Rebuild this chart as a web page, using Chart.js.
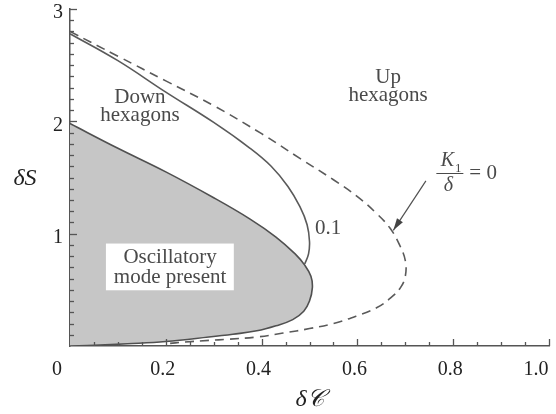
<!DOCTYPE html>
<html><head><meta charset="utf-8">
<script src="https://cdn.jsdelivr.net/npm/chart.js@4/dist/chart.umd.min.js"></script>
<style>html,body{margin:0;padding:0;background:#fff;}#wrap{width:556px;height:414px;position:relative;}</style>
</head><body><div id="wrap"><canvas id="c" width="556" height="414"></canvas></div>
<script>
// ---- data ----
const oscX = [0, 0.1, 0.2, 0.3, 0.376, 0.43, 0.47, 0.49, 0.503, 0.506, 0.50, 0.488, 0.465, 0.43, 0.39, 0.34, 0.29, 0.20, 0.12, 0.05, 0];
const oscY = [1.98, 1.76, 1.55, 1.32, 1.13, 0.97, 0.82, 0.72, 0.62, 0.52, 0.40, 0.31, 0.235, 0.18, 0.135, 0.105, 0.08, 0.04, 0.02, 0.006, 0];
const k01X = [0, 0.1, 0.2, 0.3, 0.376, 0.42, 0.455, 0.48, 0.495, 0.5, 0.498, 0.49];
const k01Y = [2.78, 2.54, 2.26, 1.99, 1.76, 1.60, 1.42, 1.24, 1.08, 0.93, 0.82, 0.73];
const k0X = [0, 0.1, 0.2, 0.3, 0.4, 0.48, 0.55, 0.60, 0.64, 0.668, 0.688, 0.70, 0.70, 0.69, 0.67, 0.64, 0.60, 0.55, 0.50, 0.445, 0.39, 0.33, 0.29, 0.24, 0.20];
const k0Y = [2.80, 2.58, 2.36, 2.14, 1.89, 1.67, 1.48, 1.33, 1.18, 1.05, 0.90, 0.76, 0.62, 0.52, 0.43, 0.34, 0.27, 0.20, 0.155, 0.115, 0.08, 0.06, 0.05, 0.035, 0.02];
const arrowX = [0.743, 0.675];
const arrowY = [1.47, 1.03];
const xMajorTicks = [0.2, 0.4, 0.6, 0.8, 1.0];
const xTickLabels = ['0.2', '0.4', '0.6', '0.8', '1.0'];
const xMinorTicks = [0.05, 0.1, 0.15, 0.25, 0.3, 0.35, 0.45, 0.5, 0.55, 0.65, 0.7, 0.75, 0.85, 0.9, 0.95];
const yMajorTicks = [1, 2, 3];
const yTickLabels = ['1', '2', '3'];
const yMinorTicks = [0.1,0.2,0.3,0.4,0.5,0.6,0.7,0.8,0.9,1.1,1.2,1.3,1.4,1.5,1.6,1.7,1.8,1.9,2.1,2.2,2.3,2.4,2.5,2.6,2.7,2.8,2.9];
const xTitle = 'δ𝒞';
const yTitle = 'δS';
const originLabel = '0';

// ---- annotation placement (layout) ----
const regionLabels = [
  {text: 'Down', x: 0.146, y: 2.16},
  {text: 'hexagons', x: 0.146, y: 2.0},
  {text: 'Up', x: 0.664, y: 2.345},
  {text: 'hexagons', x: 0.664, y: 2.177},
  {text: 'Oscillatory', x: 0.209, y: 0.735},
  {text: 'mode present', x: 0.209, y: 0.558},
  {text: '0.1', x: 0.539, y: 1.0}
];
const oscBox = {x0: 0.075, x1: 0.342, y0: 0.496, y1: 0.912};
const fracAnchor = {x: 0.792, y: 1.54};

const pts = (xs, ys) => xs.map((x, i) => ({x, y: ys[i]}));
const INK = '#4a4a4a';
const SERIF = '"Liberation Serif", "DejaVu Serif", serif';

const annot = {
  id: 'annot',
  afterDatasetsDraw(chart) {
    const {ctx, chartArea: ca} = chart;
    const xs = chart.scales.x, ys = chart.scales.y;
    ctx.save();
    // inward tick marks
    ctx.strokeStyle = '#555';
    ctx.lineWidth = 1.3;
    const tick = (v, len, isX) => {
      ctx.beginPath();
      if (isX) { const p = Math.round(xs.getPixelForValue(v)) + 0.5; ctx.moveTo(p, ca.bottom); ctx.lineTo(p, ca.bottom - len); }
      else { const p = Math.round(ys.getPixelForValue(v)) + 0.5; ctx.moveTo(ca.left, p); ctx.lineTo(ca.left + len, p); }
      ctx.stroke();
    };
    xMajorTicks.forEach(v => tick(v, 7, true));
    xMinorTicks.forEach(v => tick(v, 4, true));
    yMajorTicks.forEach(v => tick(v, 7, false));
    yMinorTicks.forEach(v => tick(v, 4, false));

    // white box behind oscillatory label
    const bx0 = xs.getPixelForValue(oscBox.x0), bx1 = xs.getPixelForValue(oscBox.x1);
    const by0 = ys.getPixelForValue(oscBox.y1), by1 = ys.getPixelForValue(oscBox.y0);
    ctx.fillStyle = '#fff';
    ctx.fillRect(bx0, by0, bx1 - bx0, by1 - by0);

    // region labels
    ctx.fillStyle = INK;
    ctx.font = '21px ' + SERIF;
    ctx.textAlign = 'center';
    ctx.textBaseline = 'alphabetic';
    regionLabels.forEach(l => ctx.fillText(l.text, xs.getPixelForValue(l.x), ys.getPixelForValue(l.y)));

    // arrowhead
    const ax0 = xs.getPixelForValue(arrowX[0]), ay0 = ys.getPixelForValue(arrowY[0]);
    const ax1 = xs.getPixelForValue(arrowX[1]), ay1 = ys.getPixelForValue(arrowY[1]);
    const ang = Math.atan2(ay1 - ay0, ax1 - ax0);
    ctx.fillStyle = '#444';
    ctx.beginPath();
    ctx.moveTo(ax1, ay1);
    ctx.lineTo(ax1 - 12 * Math.cos(ang) + 3.5 * Math.sin(ang), ay1 - 12 * Math.sin(ang) - 3.5 * Math.cos(ang));
    ctx.lineTo(ax1 - 12 * Math.cos(ang) - 3.5 * Math.sin(ang), ay1 - 12 * Math.sin(ang) + 3.5 * Math.cos(ang));
    ctx.closePath();
    ctx.fill();

    // K1/δ = 0
    const fx = xs.getPixelForValue(fracAnchor.x), fy = ys.getPixelForValue(fracAnchor.y);
    ctx.fillStyle = INK;
    ctx.font = 'italic 20px ' + SERIF;
    ctx.textAlign = 'center';
    ctx.fillText('K', fx - 2, fy - 7);
    ctx.font = '13px ' + SERIF;
    ctx.fillText('1', fx + 9, fy - 1);
    ctx.font = 'italic 20px ' + SERIF;
    ctx.fillText('δ', fx - 1, fy + 18);
    ctx.strokeStyle = INK; ctx.lineWidth = 1;
    ctx.beginPath(); ctx.moveTo(fx - 13, fy + 0.5); ctx.lineTo(fx + 14, fy + 0.5); ctx.stroke();
    ctx.font = '21px ' + SERIF;
    ctx.textAlign = 'left';
    ctx.fillText('= 0', fx + 20, fy + 6);

    // origin label and y title
    ctx.fillStyle = '#222';
    ctx.font = '20px ' + SERIF;
    ctx.textAlign = 'center';
    ctx.textBaseline = 'middle';
    ctx.fillText(originLabel, xs.getPixelForValue(0) - 13, ca.bottom + 24);
    ctx.font = 'italic 24px ' + SERIF;
    ctx.fillText(yTitle, ca.left - 45, ys.getPixelForValue(1.49));
    ctx.restore();
  }
};

new Chart(document.getElementById('c'), {
  type: 'line',
  data: {
    datasets: [
      {data: pts(oscX, oscY), borderColor: '#505050', borderWidth: 1.6, backgroundColor: '#c6c6c6', fill: 'shape', tension: 0.4, pointRadius: 0},
      {data: pts(k01X, k01Y), borderColor: '#5a5a5a', borderWidth: 1.6, fill: false, tension: 0.4, pointRadius: 0},
      {data: pts(k0X, k0Y), borderColor: '#5a5a5a', borderWidth: 1.6, borderDash: [9, 6], fill: false, tension: 0.4, pointRadius: 0},
      {data: pts(arrowX, arrowY), borderColor: '#505050', borderWidth: 1.2, fill: false, tension: 0, pointRadius: 0}
    ]
  },
  options: {
    responsive: false, animation: false, devicePixelRatio: 1,
    layout: {padding: {top: 9, right: 7, left: 0, bottom: 0}},
    plugins: {legend: {display: false}, tooltip: {enabled: false}},
    scales: {
      x: {
        type: 'linear', min: 0, max: 1,
        afterBuildTicks: s => { s.ticks = xMajorTicks.map(v => ({value: v})); },
        afterFit: s => { s.height = 68; s.paddingLeft = 0; s.paddingRight = 0; },
        ticks: {
          callback: (v, i) => i === xTickLabels.length - 1 ? xTickLabels[i] + '\u2007\u2007' : xTickLabels[i],
          color: '#222', font: {family: SERIF, size: 20}, padding: 12, labelOffset: -3, maxRotation: 0, autoSkip: false
        },
        grid: {display: false, drawTicks: false},
        border: {display: true, color: '#555', width: 1.5},
        title: {display: true, text: xTitle, color: '#222', font: {family: SERIF, size: 24, style: 'italic'}, padding: {top: 0, bottom: 0}}
      },
      y: {
        type: 'linear', min: 0, max: 3,
        afterBuildTicks: s => { s.ticks = yMajorTicks.map(v => ({value: v})); },
        afterFit: s => { s.width = 70; s.paddingTop = 0; s.paddingBottom = 0; },
        ticks: {callback: (v, i) => yTickLabels[i], color: '#222', font: {family: SERIF, size: 20}, padding: 7, labelOffset: 4, autoSkip: false},
        grid: {display: false, drawTicks: false},
        border: {display: true, color: '#555', width: 1.5}
      }
    }
  },
  plugins: [annot]
});
</script></body></html>
